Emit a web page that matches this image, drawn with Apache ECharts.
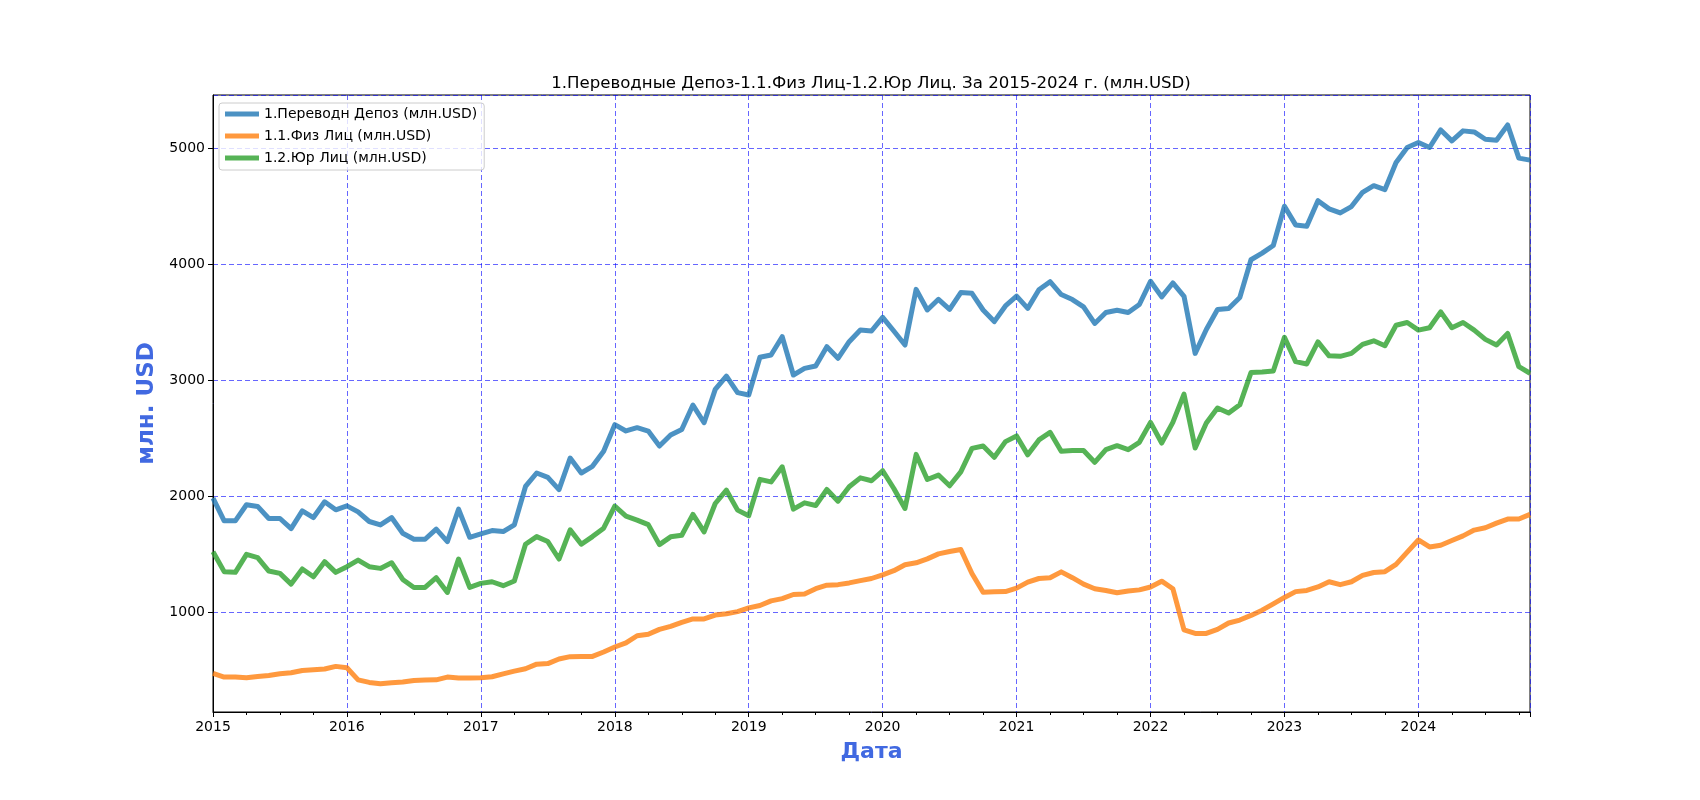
<!DOCTYPE html>
<html>
<head>
<meta charset="utf-8">
<title>Переводные депозиты</title>
<script src="https://cdn.jsdelivr.net/npm/echarts@6/dist/echarts.min.js"></script>
<style>
	html,body{margin:0;padding:0;background:#fff;}
	#main{width:1700px;height:800px;}
</style>
</head>
<body>
<div id="main"></div>
<script>
	// месячные данные: янв 2015 - ноя 2024
	var startYear = 2015;
	var yearLabels = ['2015','2016','2017','2018','2019','2020','2021','2022','2023','2024'];

	var perevod = [
		1985,1790,1790,1928,1914,1810,1810,1723,1876,1818,1954,1885,
		1919,1867,1784,1755,1818,1683,1631,1631,1718,1611,1890,1648,
		1677,1706,1697,1755,2086,2202,2164,2058,2331,2202,2259,2389,
		2618,2564,2592,2563,2434,2529,2577,2787,2635,2922,3037,2894,
		2874,3199,3218,3376,3046,3103,3123,3290,3190,3333,3434,3425,
		3543,3425,3304,3784,3606,3698,3612,3756,3750,3606,3506,3641,
		3725,3620,3780,3850,3739,3696,3633,3490,3584,3604,3584,3653,
		3853,3719,3839,3724,3232,3438,3610,3619,3713,4039,4096,4162,
		4500,4339,4328,4548,4477,4442,4497,4620,4677,4643,4877,5006,
		5049,5006,5157,5063,5149,5140,5077,5069,5200,4914,4897
	];
	var fizLic = [
		475,444,444,438,449,458,473,481,501,507,513,536,
		524,420,398,386,395,401,415,418,420,444,435,435,
		438,447,472,495,515,555,560,600,620,622,622,660,
		703,738,800,812,855,880,915,945,945,978,990,1008,
		1040,1060,1100,1120,1155,1160,1205,1235,1240,1255,1275,1293,
		1325,1360,1412,1428,1462,1505,1525,1543,1336,1175,1178,1180,
		1210,1262,1293,1300,1350,1300,1245,1205,1190,1170,1185,1195,
		1220,1270,1205,850,820,820,855,910,935,975,1020,1075,
		1130,1180,1190,1220,1265,1240,1265,1320,1345,1352,1415,1520,
		1625,1565,1580,1620,1660,1710,1730,1770,1805,1805,1845
	];
	var yurLic = [
		1524,1352,1346,1501,1473,1357,1337,1245,1375,1308,1438,1346,
		1395,1452,1395,1380,1429,1285,1216,1216,1300,1173,1461,1216,
		1251,1265,1231,1271,1588,1654,1611,1461,1712,1588,1654,1726,
		1916,1830,1796,1757,1585,1652,1666,1845,1695,1939,2054,1882,
		1833,2147,2125,2255,1890,1945,1922,2060,1959,2083,2160,2135,
		2221,2068,1896,2362,2146,2184,2092,2212,2414,2434,2337,2472,
		2521,2358,2487,2552,2389,2395,2395,2294,2403,2437,2403,2466,
		2638,2460,2638,2881,2417,2632,2761,2718,2789,3067,3072,3081,
		3370,3161,3141,3331,3211,3207,3232,3310,3341,3298,3475,3498,
		3433,3453,3590,3453,3498,3433,3353,3304,3404,3118,3061
	];

	function toPoints(arr){
		var res = [];
		for(var i=0;i<arr.length;i++){
			res.push([i,arr[i]]);
		}
		return res;
	}

	var font = 'DejaVu Sans';
	var gridLine = {show:true,lineStyle:{color:'rgba(0,0,255,0.6)',width:1,type:[5,3]}};

	var option = {
		animation:false,
		backgroundColor:'#fff',
		title:{
			text:'1.Переводные Депоз-1.1.Физ Лиц-1.2.Юр Лиц. За 2015-2024 г. (млн.USD)',
			left:871, top:75, padding:0, textAlign:'center',
			textStyle:{fontFamily:font,fontSize:16.6,fontWeight:'normal',color:'#000'}
		},
		legend:{
			orient:'vertical', left:219, top:103,
			padding:[4,7,5,6], itemGap:8,
			itemWidth:34, itemHeight:5, icon:'rect',
			backgroundColor:'rgba(255,255,255,0.8)',
			borderColor:'#ccc', borderWidth:1, borderRadius:3,
			textStyle:{fontFamily:font,fontSize:14,color:'#000'},
			data:['1.Переводн Депоз (млн.USD)','1.1.Физ Лиц (млн.USD)','1.2.Юр Лиц (млн.USD)']
		},
		grid:{left:213,top:95,width:1317,height:617,show:true,borderColor:'#000',borderWidth:1},
		xAxis:{
			type:'value', min:0, max:perevod.length-1, interval:12,
			name:'Дата', nameLocation:'middle', nameGap:29,
			nameTextStyle:{fontFamily:font,fontSize:22,fontWeight:'bold',color:'#4169E1'},
			axisLine:{show:true,lineStyle:{color:'#000',width:1}},
			axisTick:{show:true,length:5,lineStyle:{color:'#000'}},
			minorTick:{show:true,splitNumber:4,length:3,lineStyle:{color:'#000'}},
			axisLabel:{
				fontFamily:font,fontSize:14,color:'#000',margin:8,showMaxLabel:false,
				formatter:function(v){
					if(v%12!==0) return '';
					return yearLabels[v/12] || String(startYear+v/12);
				}
			},
			splitLine:gridLine
		},
		yAxis:{
			type:'value', min:143, max:5458, splitNumber:5,
			name:'млн. USD', nameLocation:'middle', nameGap:47, nameRotate:90,
			nameTextStyle:{fontFamily:font,fontSize:23,fontWeight:'bold',color:'#4169E1'},
			axisLine:{show:true,lineStyle:{color:'#000',width:1}},
			axisTick:{show:true,length:5,lineStyle:{color:'#000'}},
			axisLabel:{
				fontFamily:font,fontSize:14,color:'#000',margin:8,
				showMinLabel:false,showMaxLabel:false,
				formatter:function(v){ return v%1000===0 ? String(v) : ''; }
			},
			splitLine:gridLine
		},
		series:[
			{
				name:'1.Переводн Депоз (млн.USD)', type:'line', showSymbol:false, symbol:'none',
				color:'rgba(31,119,180,0.8)',
				lineStyle:{width:5,join:'round'},
				data:toPoints(perevod)
			},
			{
				name:'1.1.Физ Лиц (млн.USD)', type:'line', showSymbol:false, symbol:'none',
				color:'rgba(255,127,14,0.8)',
				lineStyle:{width:5,join:'round'},
				data:toPoints(fizLic)
			},
			{
				name:'1.2.Юр Лиц (млн.USD)', type:'line', showSymbol:false, symbol:'none',
				color:'rgba(44,160,44,0.8)',
				lineStyle:{width:5,join:'round'},
				data:toPoints(yurLic)
			}
		]
	};

	var myChart = echarts.init(document.getElementById('main'));
	myChart.setOption(option);
</script>
</body>
</html>
